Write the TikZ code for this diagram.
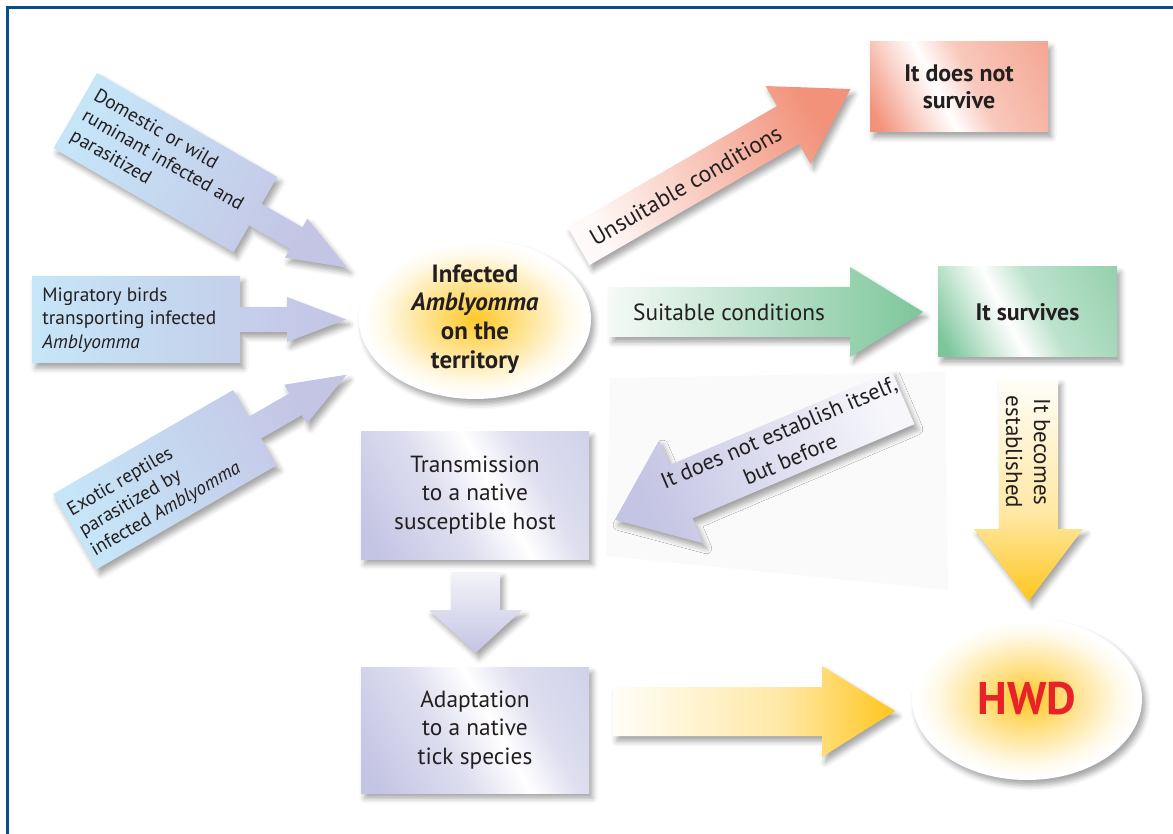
\documentclass[tikz,border=0pt]{standalone}
\usepackage{fontspec}
\setmainfont{PT Sans}
\usetikzlibrary{shadows.blur,shapes.geometric}
\definecolor{lav}{HTML}{C4C4E4}
\definecolor{skyb}{HTML}{C6E6F8}
\definecolor{salm}{HTML}{F2927A}
\definecolor{grn}{HTML}{7CC69A}
\definecolor{gold}{HTML}{FFC61E}
\definecolor{framec}{HTML}{0B4D89}
\definecolor{ink}{HTML}{231F20}
\definecolor{hwdred}{HTML}{E82229}
\pgfdeclarehorizontalshading{shinyL}{100bp}{color(0bp)=(lav); color(20bp)=(lav); color(42bp)=(lav!55); color(55bp)=(white); color(66bp)=(lav!55); color(100bp)=(lav)}
\pgfdeclarehorizontalshading{shinyS}{100bp}{color(0bp)=(salm); color(20bp)=(salm); color(32bp)=(salm!45); color(43bp)=(white); color(55bp)=(salm!50); color(100bp)=(salm)}
\pgfdeclarehorizontalshading{shinyG}{100bp}{color(0bp)=(grn); color(20bp)=(grn); color(32bp)=(grn!45); color(43bp)=(white); color(55bp)=(grn!50); color(100bp)=(grn)}
\pgfdeclarehorizontalshading{fadeS}{100bp}{color(0bp)=(white); color(25bp)=(salm!6); color(75bp)=(salm); color(100bp)=(salm)}
\pgfdeclarehorizontalshading{fadeG}{100bp}{color(0bp)=(grn!5); color(25bp)=(grn!8); color(75bp)=(grn); color(100bp)=(grn)}
\pgfdeclarehorizontalshading{fadeY}{100bp}{color(0bp)=(white); color(25bp)=(gold!3); color(55bp)=(gold!40); color(75bp)=(gold); color(100bp)=(gold)}
\pgfdeclarehorizontalshading{fadeL}{100bp}{color(0bp)=(lav); color(25bp)=(lav); color(75bp)=(lav!15); color(100bp)=(lav!10)}
\pgfdeclarehorizontalshading{fadeSrc}{100bp}{color(0bp)=(skyb); color(25bp)=(skyb); color(75bp)=(lav); color(100bp)=(lav)}
\pgfdeclarehorizontalshading{fadeW}{100bp}{color(0bp)=(lav!15); color(25bp)=(lav!20); color(75bp)=(lav); color(100bp)=(lav)}
\pgfdeclareradialshading{glow}{\pgfpoint{0bp}{0bp}}{color(0bp)=(gold!95); color(6bp)=(gold!70); color(14bp)=(gold!35); color(20bp)=(gold!10); color(24bp)=(white); color(50bp)=(white)}
\tikzset{
  shad/.style={blur shadow={shadow xshift=2pt, shadow yshift=-3pt, shadow blur radius=3pt, shadow opacity=35}},
  body/.style={font=\fontsize{13.3pt}{16.4pt}\selectfont, text=ink, align=center},
  bodyb/.style={font=\fontsize{13.6pt}{15.3pt}\selectfont\bfseries, text=ink, align=center},
  srct/.style={font=\fontsize{11pt}{13.3pt}\selectfont, text=ink, align=left, anchor=west, inner sep=0pt},
  shinybox/.style={rectangle, shad, inner sep=0pt},
  blob/.style={ellipse, shad, shading=glow, inner sep=0pt, minimum width=232*0.02cm, minimum height=160*0.02cm}
}
\begin{document}
\begin{tikzpicture}[x=0.02cm, y=-0.02cm]
\useasboundingbox (0,0) rectangle (1173,834);
% faint panel
\fill[black!2] (610,378) -- (945,372) -- (948,590) -- (606,556) -- cycle;
% frame
\draw[framec, line width=3*0.02cm] (7.5,834) -- (7.5,7.5) -- (1173,7.5);

% source arrows
\begin{scope}[shift={(97,73)}, rotate=-30]
  \path[shad, shading=fadeSrc, shading angle=-30] (0,0) -- (208,0) -- (208,31) -- (255,31) -- (255,21) -- (314,43.5) -- (255,66) -- (255,56) -- (208,56) -- (208,87) -- (0,87) -- cycle;
  \node[srct, rotate=-30] (src1) at (9,43.5) {Domestic or wild\\ruminant infected and\\parasitized};
\end{scope}
\begin{scope}[shift={(32,276)}]
  \path[shad, shading=fadeSrc] (0,0) -- (208,0) -- (208,31) -- (255,31) -- (255,21) -- (314,43.5) -- (255,66) -- (255,56) -- (208,56) -- (208,87) -- (0,87) -- cycle;
  \node[srct] (src2) at (10,44) {Migratory birds\\transporting infected\\\textit{Amblyomma}};
\end{scope}
\begin{scope}[shift={(53,494)}, rotate=30]
  \path[shad, shading=fadeSrc, shading angle=30] (0,0) -- (208,0) -- (208,31) -- (255,31) -- (255,21) -- (314,43.5) -- (255,66) -- (255,56) -- (208,56) -- (208,87) -- (0,87) -- cycle;
  \node[srct, rotate=30] (src3) at (5,47) {Exotic reptiles\\parasitized by\\infected \textit{Amblyomma}};
\end{scope}

% central ellipse
\node[blob, font=\fontsize{14.2pt}{16.4pt}\selectfont\bfseries, text=ink, align=center] (infected) at (475,319) {Infected\\\textit{Amblyomma}\\on the\\territory};

% unsuitable arrow
\begin{scope}[shift={(578.5,246)}, rotate=30]
  \path[shad, shading=fadeS, shading angle=30] (0,-22) -- (242,-22) -- (242,-45) -- (314,0) -- (242,45) -- (242,22) -- (0,22) -- cycle;
  \node[body, rotate=30] (unsuit) at (123,1) {Unsuitable conditions};
\end{scope}
\node[shinybox, shading=shinyS, shading angle=26.8, minimum width=178*0.02cm, minimum height=90*0.02cm, bodyb] (nosurv) at (959,87) {It does not\\survive};

% suitable arrow
\path[shad, shading=fadeG] (609,287) -- (850,287) -- (850,267) -- (923,312) -- (850,357) -- (850,337) -- (609,337) -- cycle;
\node[body] (suit) at (729,312) {Suitable conditions};
\node[shinybox, shading=shinyG, shading angle=26.7, minimum width=179*0.02cm, minimum height=90*0.02cm, bodyb] (surv) at (1027.5,312) {It survives};

% becomes established arrow
\path[shad, shading=fadeY, shading angle=-90] (999,379) -- (1058,379) -- (1058,529) -- (1083,529) -- (1028.5,601) -- (974,529) -- (999,529) -- cycle;
\node[body, rotate=-90, font=\fontsize{13.1pt}{16pt}\selectfont] (estab) at (1028,452) {It becomes\\established};

% HWD
\node[blob, minimum width=230*0.02cm, minimum height=162*0.02cm, font=\fontsize{26pt}{30pt}\selectfont\bfseries, text=hwdred] (hwd) at (1027,699) {HWD};

% does not establish arrow
\begin{scope}[shift={(903,397.5)}, rotate=23]
  \path[shad, shading=fadeL, shading angle=23] (0,-29) -- (-241,-29) -- (-241,-56) -- (-313,0) -- (-241,56) -- (-241,29) -- (0,29) -- cycle;
  \node[body, rotate=23, font=\fontsize{12.8pt}{16.4pt}\selectfont] (notest) at (-128,-2) {It does not establish itself,\\but before};
\end{scope}

% transmission & adaptation
\node[shinybox, shading=shinyL, shading angle=29.3, minimum width=228*0.02cm, minimum height=128*0.02cm, body] (trans) at (475,495) {Transmission\\to a native\\susceptible host};
\path[shad, shading=fadeW, shading angle=-90] (451,572) -- (500,572) -- (500,610) -- (522,610) -- (475.5,653) -- (429,610) -- (451,610) -- cycle;
\node[shinybox, shading=shinyL, shading angle=28.9, minimum width=228*0.02cm, minimum height=126*0.02cm, body] (adapt) at (475,730) {Adaptation\\to a native\\tick species};

% yellow arrow to HWD
\path[shad, shading=fadeY] (613,687) -- (822,687) -- (822,666) -- (895,711) -- (822,757) -- (822,736) -- (613,736) -- cycle;
\end{tikzpicture}
\end{document}
